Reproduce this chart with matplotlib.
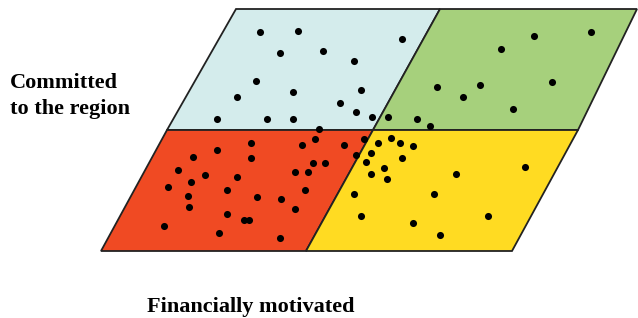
import matplotlib.pyplot as plt
from matplotlib.patches import Polygon

W, H = 638, 318

# dot positions (pixel coords, y down)
dot_x = [260, 298, 402, 280, 323, 354, 256, 293, 361, 237, 340, 356, 217, 267,
         293, 372, 388, 417, 430, 319, 437,
         534, 591, 501, 480, 463, 552, 513,
         251, 217, 193, 251, 302, 315, 344, 364, 356, 366, 371, 371, 178, 205,
         237, 191, 168, 313, 325, 295, 308, 305, 188, 227, 257, 281, 189, 227,
         295, 244, 249, 354, 361, 164, 219, 280,
         378, 391, 400, 413, 402, 384, 387, 456, 525, 434, 413, 488, 440]
dot_y = [32, 31, 39, 53, 51, 61, 81, 92, 90, 97, 103, 112, 119, 119,
         119, 117, 117, 119, 126, 129, 87,
         36, 32, 49, 85, 97, 82, 109,
         143, 150, 157, 158, 145, 139, 145, 139, 155, 162, 153, 174, 170, 175,
         177, 182, 187, 163, 163, 172, 172, 190, 196, 190, 197, 199, 207, 214,
         209, 220, 220, 194, 216, 226, 233, 238,
         143, 138, 143, 146, 158, 168, 179, 174, 167, 194, 223, 216, 235]

# quadrant outlines: left edge, middle divider, right edge
left = [(236, 9), (167, 130), (101, 251)]
mid = [(440, 9), (373, 130), (306, 251)]
right = [(637, 9), (578, 130), (512, 251)]

quads = {
    "#d4ecec": [left[0], mid[0], mid[1], left[1]],
    "#a6d07c": [mid[0], right[0], right[1], mid[1]],
    "#f04a23": [left[1], mid[1], mid[2], left[2]],
    "#ffdb22": [mid[1], right[1], right[2], mid[2]],
}

fig = plt.figure(figsize=(W / 100, H / 100), dpi=100)
ax = fig.add_axes([0, 0, 1, 1])
ax.set_xlim(0, W)
ax.set_ylim(H, 0)
ax.axis("off")

for color, pts in quads.items():
    ax.add_patch(Polygon(pts, closed=True, facecolor=color,
                         edgecolor="#222222", linewidth=1.3))

ax.scatter(dot_x, dot_y, s=26, color="black", zorder=3, linewidths=0)

font = dict(family="Liberation Serif", fontweight="bold", fontsize=16, color="black")
ax.text(10, 88, "Committed", ha="left", va="baseline", **font)
ax.text(10, 114, "to the region", ha="left", va="baseline", **font)
ax.text(251, 312, "Financially motivated", ha="center", va="baseline", **font)

fig.savefig("out.png", dpi=100)
